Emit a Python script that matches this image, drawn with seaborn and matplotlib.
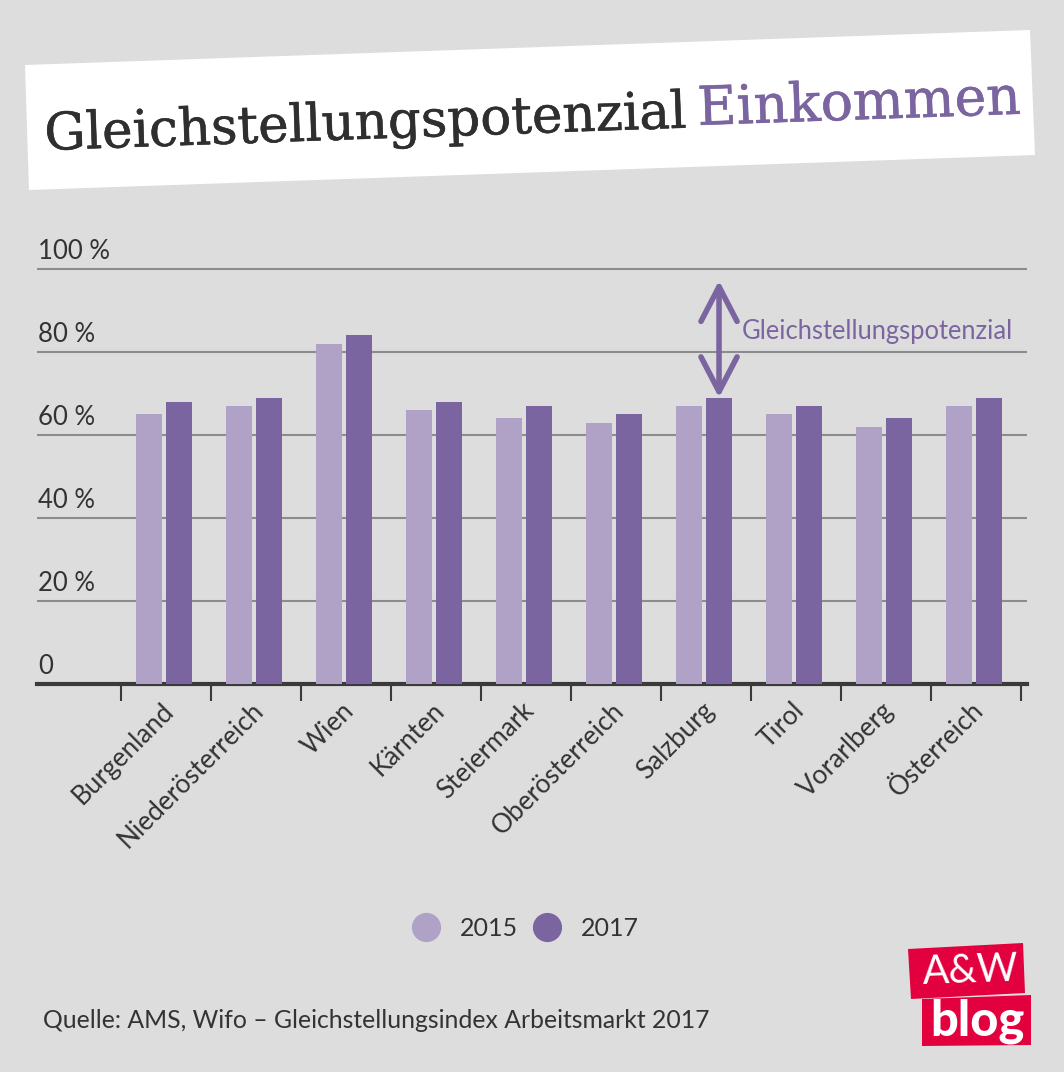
import matplotlib
matplotlib.use("Agg")
import matplotlib.pyplot as plt
import matplotlib.patheffects as pe
import pandas as pd
import seaborn as sns
from matplotlib.lines import Line2D
from matplotlib.patches import Polygon
from matplotlib.ticker import FixedLocator
from matplotlib.transforms import ScaledTranslation

# Values
regions = ["Burgenland", "Niederösterreich", "Wien", "Kärnten", "Steiermark",
           "Oberösterreich", "Salzburg", "Tirol", "Vorarlberg", "Österreich"]
values_2015 = [65, 67, 82, 66, 64, 63, 67, 65, 62, 67]
values_2017 = [68, 69, 84, 68, 67, 65, 69, 67, 64, 69]
y_ticks = [0, 20, 40, 60, 80, 100]
y_labels = ["0", "20 %", "40 %", "60 %", "80 %", "100 %"]

BG = "#dddddd"
LIGHT = "#b0a1c6"
DARK = "#7b65a0"
TEXT = "#333333"
GRID = "#8c8c8c"
RED = "#e2003f"
W, H = 1064, 1072

sns.set_theme(style="whitegrid", rc={"figure.facecolor": BG, "axes.facecolor": "none"})
plt.rcParams["font.family"] = ["Lato", "DejaVu Sans"]

df = pd.DataFrame({
    "region": regions * 2,
    "year": ["2015"] * len(regions) + ["2017"] * len(regions),
    "value": values_2015 + values_2017,
})

fig = plt.figure(figsize=(W / 100, H / 100), dpi=100)

# overlay in pixel coordinates for the title box, logo and notes
deco = fig.add_axes([0, 0, 1, 1])
deco.set_xlim(0, W)
deco.set_ylim(H, 0)
deco.axis("off")

# chart axes: 0 at y=684, 100 at y=269, one category is 90 px
top_px = 684 - 4.15 * 105
ax = fig.add_axes([37 / W, 1 - 684 / H, (1027 - 37) / W, (684 - top_px) / H])
sns.barplot(data=df, x="region", y="value", hue="year", order=regions,
            palette={"2015": LIGHT, "2017": DARK}, width=0.667, gap=0.133,
            saturation=1, legend=False, linewidth=0, ax=ax, zorder=3)
ax.set_xlim(-(164 - 37) / 90, (1027 - 164) / 90)
ax.set_ylim(0, 105)
ax.set_xlabel("")
ax.set_ylabel("")

ax.set_yticks(y_ticks)
ax.set_yticklabels(y_labels, ha="left", va="bottom", fontsize=18.5, color=TEXT)
ax.tick_params(axis="y", length=0, pad=-1)
for label in ax.get_yticklabels():
    label.set_transform(label.get_transform() + ScaledTranslation(0, 3.6 / 72, fig.dpi_scale_trans))
ax.yaxis.grid(True, color=GRID, linewidth=1.5)
ax.xaxis.grid(False)
ax.set_axisbelow(True)
for side in ["left", "right", "top"]:
    ax.spines[side].set_visible(False)
ax.spines["bottom"].set_color("#3a3a3a")
ax.spines["bottom"].set_linewidth(3)

ax.set_xticks(range(len(regions)))
ax.set_xticklabels(regions, rotation=45, ha="right", va="top",
                   rotation_mode="anchor", fontsize=18.8, color=TEXT)
ax.tick_params(axis="x", which="major", length=0, pad=10)
for label in ax.get_xticklabels():
    label.set_transform(label.get_transform() + ScaledTranslation(-2 / 72, 0, fig.dpi_scale_trans))
ax.xaxis.set_minor_locator(FixedLocator([i - 43 / 90 for i in range(len(regions) + 1)]))
ax.tick_params(axis="x", which="minor", bottom=True, length=12, width=1.5, color="#3a3a3a")

# double arrow from the Salzburg 2017 bar up towards 100 %
ax.annotate("", xy=(6.167, 97.2), xytext=(6.167, values_2017[6]), zorder=5,
            arrowprops=dict(arrowstyle="<->,head_length=1.25,head_width=0.65", color=DARK,
                            lw=4, mutation_scale=20, shrinkA=0, shrinkB=0))
deco.text(742, 331, "Gleichstellungspotenzial", color=DARK, fontsize=18.4, va="center")

# title strip
deco.add_patch(Polygon([(25, 65), (1030, 30), (1035, 155), (29, 190)], facecolor="white", edgecolor="none"))
deco.text(45, 150, "Gleichstellungspotenzial", color="#2f2f2f", fontsize=37.1, family="DejaVu Serif",
          rotation=2, rotation_mode="anchor", ha="left", va="baseline",
          path_effects=[pe.withStroke(linewidth=0.4, foreground="#2f2f2f")])
deco.text(698, 125, "Einkommen", color=DARK, fontsize=38.6, family="DejaVu Serif",
          rotation=2, rotation_mode="anchor", ha="left", va="baseline",
          path_effects=[pe.withStroke(linewidth=0.4, foreground=DARK)])

# legend
handles = [Line2D([], [], linestyle="", marker="o", markersize=20, color=c) for c in (LIGHT, DARK)]
fig.legend(handles, ["2015", "2017"], loc="center", bbox_to_anchor=(520 / W, 1 - 928 / H), ncol=2,
           frameon=False, fontsize=18, labelcolor=TEXT, handletextpad=0.35, columnspacing=0.14)

deco.text(43, 1020, "Quelle: AMS, Wifo – Gleichstellungsindex Arbeitsmarkt 2017",
          color=TEXT, fontsize=17.85, va="center")

# logo
deco.add_patch(Polygon([(908, 949), (1023, 943), (1025, 993), (911, 999)], facecolor=RED, edgecolor="none"))
deco.add_patch(Polygon([(922, 999), (1031, 995), (1031, 1045), (922, 1046)], facecolor=RED, edgecolor="none"))
deco.text(971, 971, "A&W", color="white", fontsize=28.5, ha="center", va="center", rotation=2)
deco.text(977, 1021, "blog", color="white", fontsize=35, fontweight="black", ha="center", va="center")

fig.savefig("out.png", dpi=100, facecolor=BG)
